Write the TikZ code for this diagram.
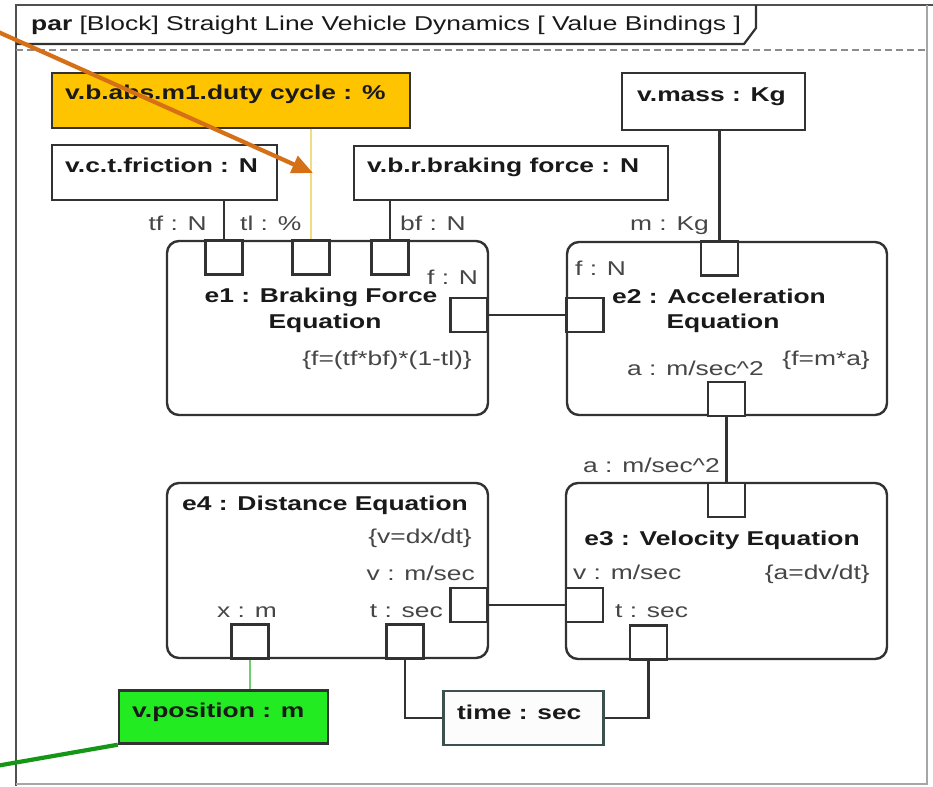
\documentclass[tikz,border=0pt]{standalone}
\usepackage{fontspec}
\setmainfont[FakeStretch=1.32]{Liberation Sans}
\usetikzlibrary{arrows.meta}
\definecolor{boxline}{RGB}{50,50,50}
\definecolor{lblgray}{RGB}{70,70,70}
\definecolor{boldtxt}{RGB}{25,25,25}
\definecolor{dutyfill}{RGB}{255,196,0}
\definecolor{posfill}{RGB}{34,235,34}
\definecolor{timeline}{RGB}{60,80,80}
\definecolor{orangearr}{RGB}{214,112,22}
\definecolor{greenarr}{RGB}{22,150,22}
\definecolor{paleyellow}{RGB}{238,222,130}
\definecolor{palegreen}{RGB}{110,205,110}
\definecolor{framegray}{RGB}{80,80,80}
\begin{document}
\begin{tikzpicture}[x=1pt,y=-1pt,
  valbox/.style={draw=boxline, line width=2.4pt, fill=white, inner sep=0},
  eqbox/.style={draw=boxline, line width=2.4pt, rounded corners=12pt, fill=white, inner sep=0},
  port/.style={draw=boxline, line width=2.4pt, fill=white, minimum width=37pt, minimum height=34pt, inner sep=0},
  conn/.style={draw=boxline, line width=2.2pt},
  lbl/.style={inner sep=0, text=lblgray, font=\fontsize{20}{24}\selectfont},
  blbl/.style={inner sep=0, text=boldtxt, font=\fontsize{20}{24}\selectfont\bfseries}
]
\useasboundingbox (0,0) rectangle (933,786);
\fill[white] (0,0) rectangle (933,786);

% frame
\draw[framegray, line width=2.6pt] (16,786) -- (16,5) -- (933,5);
\draw[black!35, line width=1.4pt] (927,5) -- (927,784) -- (16,784);
\draw[boxline, line width=2.2pt] (756,5) -- (756,28) -- (744,44) -- (16,44);
\draw[black!45, line width=1.6pt, dash pattern=on 7pt off 4pt] (16,50) -- (927,50);
\node[anchor=base west, inner sep=0, font=\fontsize{20}{24}\selectfont, text=boldtxt] (title) at (31,31)
  {\textbf{par} [Block] Straight Line Vehicle Dynamics [ Value Bindings ]};

% value boxes
\node[valbox, fill=dutyfill, minimum width=358pt, minimum height=55pt] (duty) at (231,100.5) {};
\node[valbox, minimum width=183pt, minimum height=57pt] (mass) at (713.5,101.5) {};
\node[valbox, minimum width=225pt, minimum height=55pt] (fric) at (164.5,172.5) {};
\node[valbox, minimum width=314pt, minimum height=54pt] (brake) at (511,173) {};
\node[valbox, fill=posfill, minimum width=209pt, minimum height=53pt] (pos) at (223.5,717) {};
\node[valbox, draw=timeline, fill=black!1, minimum width=160pt, minimum height=54pt] (time) at (523.5,718) {};

% equation blocks
\node[eqbox, minimum width=321pt, minimum height=174pt] (e1) at (327.5,328) {};
\node[eqbox, minimum width=320pt, minimum height=173pt] (e2) at (727,328.5) {};
\node[eqbox, minimum width=321pt, minimum height=176pt] (e3) at (726.5,571) {};
\node[eqbox, minimum width=321pt, minimum height=175pt] (e4) at (327.5,570.5) {};

% ports
\node[port] (e1tf) at (224,257.5) {};
\node[port] (e1tl) at (311,257.5) {};
\node[port] (e1bf) at (390,257.5) {};
\node[port] (e1f) at (469,315) {};
\node[port] (e2m) at (719.5,258.5) {};
\node[port] (e2f) at (585,315) {};
\node[port] (e2a) at (726.5,399) {};
\node[port] (e3a) at (726.5,500) {};
\node[port] (e3v) at (584.5,605) {};
\node[port] (e3t) at (648.5,642.5) {};
\node[port] (e4v) at (469,605) {};
\node[port] (e4x) at (250,641.5) {};
\node[port] (e4t) at (405,641.5) {};

% connectors
\draw[conn] (fric.south -| e1tf) -- (e1tf.north);
\draw[paleyellow, line width=1.6pt] (duty.south -| e1tl) -- (e1tl.north);
\draw[conn] (brake.south -| e1bf) -- (e1bf.north);
\draw[conn] (mass.south -| e2m) -- (e2m.north);
\draw[conn] (e1f.east) -- (e2f.west);
\draw[conn] (e2a.south) -- (e3a.north);
\draw[conn] (e4v.east) -- (e3v.west);
\draw[palegreen, line width=1.6pt] (e4x.south) -- (pos.north -| e4x);
\draw[conn] (e4t.south) |- (time.west);
\draw[conn] (e3t.south) |- (time.east);

% value box texts
\node[blbl, anchor=base west] (tduty) at (65,100) {v.b.abs.m1.duty cycle : \%};
\node[blbl, anchor=base west] (tmass) at (637,102) {v.mass : Kg};
\node[blbl, anchor=base west] (tfric) at (65,173) {v.c.t.friction : N};
\node[blbl, anchor=base west] (tbrake) at (367,173) {v.b.r.braking force : N};
\node[blbl, anchor=base west] (tpos) at (132,717) {v.position : m};
\node[blbl, anchor=base west] (ttime) at (457,719) {time : sec};

% port labels
\node[lbl, anchor=base east] (ltf) at (207,230) {tf : N};
\node[lbl, anchor=base west] (ltl) at (240,230) {tl : \%};
\node[lbl, anchor=base west] (lbf) at (400,230) {bf : N};
\node[lbl, anchor=base east] (lm) at (709,230) {m : Kg};
\node[lbl, anchor=base west] (lf1) at (427,284) {f : N};
\node[lbl, anchor=base west] (lf2) at (575,275) {f : N};
\node[lbl, anchor=base west] (la2) at (627,375) {a : m/sec\textasciicircum 2};
\node[lbl, anchor=base east] (la3) at (720,472) {a : m/sec\textasciicircum 2};
\node[lbl, anchor=base west] (lv3) at (573,579) {v : m/sec};
\node[lbl, anchor=base west] (lt3) at (615,617) {t : sec};
\node[lbl, anchor=base east] (lv4) at (475,580) {v : m/sec};
\node[lbl, anchor=base west] (lx4) at (217,617) {x : m};
\node[lbl, anchor=base east] (lt4) at (443,617) {t : sec};

% block titles and constraints
\node[blbl, anchor=base] (n1a) at (321,302) {e1 : Braking Force};
\node[blbl, anchor=base] (n1b) at (325,328) {Equation};
\node[lbl, anchor=base east] (c1) at (472,365) {\{f=(tf*bf)*(1-tl)\}};
\node[blbl, anchor=base] (n2a) at (719,303) {e2 : Acceleration};
\node[blbl, anchor=base] (n2b) at (723,328) {Equation};
\node[lbl, anchor=base east] (c2) at (870,365) {\{f=m*a\}};
\node[blbl, anchor=base] (n3) at (722,545) {e3 : Velocity Equation};
\node[lbl, anchor=base east] (c3) at (870,579) {\{a=dv/dt\}};
\node[blbl, anchor=base west] (n4) at (182,510) {e4 : Distance Equation};
\node[lbl, anchor=base east] (c4) at (472,543) {\{v=dx/dt\}};

% annotation arrows
\coordinate (oas) at (-4,31);
\coordinate (oat) at (313,173);
\draw[orangearr, line width=4.2pt, -{Triangle[length=21pt,width=18pt]}] (oas) -- (oat);
\coordinate (gas) at (-4,766);
\draw[greenarr, line width=4.2pt] (gas) -- (pos.south west);
\end{tikzpicture}
\end{document}
